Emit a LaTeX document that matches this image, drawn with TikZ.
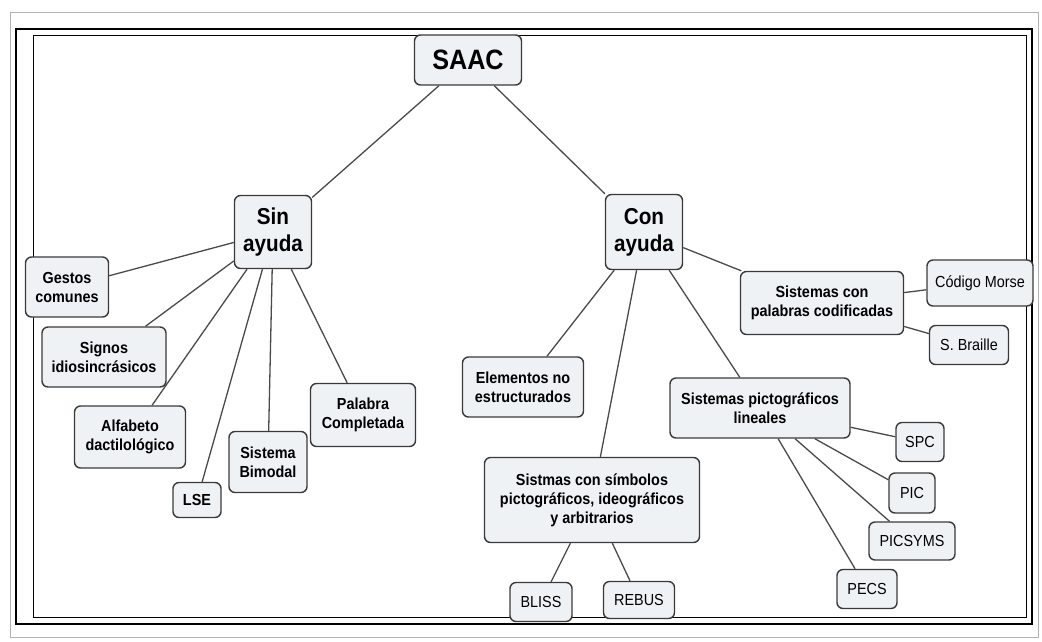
\documentclass[tikz,border=0pt]{standalone}
\usepackage{fontspec}
\setmainfont[FakeStretch=0.9]{Liberation Sans}
\usetikzlibrary{positioning}
\usepackage{xcolor}

\definecolor{relleno}{HTML}{EEF2F5}
\definecolor{borde}{HTML}{3A3A3A}
\definecolor{linea}{HTML}{4A4A4A}

\tikzset{
  caja/.style={draw=borde, fill=relleno, line width=1.4pt, rounded corners=6pt,
    align=center, inner sep=2pt, font=\fontsize{16}{19}\selectfont\bfseries},
  cajita/.style={caja, font=\fontsize{16}{19}\selectfont},
  grande/.style={caja, font=\fontsize{23}{27}\selectfont\bfseries},
  conector/.style={draw=linea, line width=1.3pt}
}

\begin{document}
\begin{tikzpicture}[x=1pt, y=-1pt]
    % Marco de la imagen
    \useasboundingbox (0,0) rectangle (1042,641);
    \draw[gray!60, line width=0.8pt] (10,12) rectangle (1038,637);
    \draw[black, line width=2pt] (16,29) rectangle (1032,624);
    \draw[black, line width=0.8pt] (33,35) rectangle (1026,617);

    % Nodo principal
    \node[caja, font=\fontsize{28}{32}\selectfont\bfseries, minimum width=107, minimum height=50] (saac) at (468,60) {SAAC};

    % Sin ayuda
    \node[grande, minimum width=77, minimum height=73] (sin) at (273,232) {Sin\\ayuda};
    \node[caja, minimum width=83, minimum height=60] (gestos) at (67,287) {Gestos\\comunes};
    \node[caja, minimum width=124, minimum height=60] (signos) at (104,357) {Signos\\idiosincrásicos};
    \node[caja, minimum width=111, minimum height=62] (alfabeto) at (130,437) {Alfabeto\\dactilológico};
    \node[caja, minimum width=48, minimum height=35] (lse) at (197,500) {LSE};
    \node[caja, minimum width=78, minimum height=61] (bimodal) at (268,462) {Sistema\\Bimodal};
    \node[caja, minimum width=105, minimum height=63] (palabra) at (363,415) {Palabra\\Completada};

    % Con ayuda
    \node[grande, minimum width=77, minimum height=75] (con) at (644,232) {Con\\ayuda};
    \node[caja, minimum width=163, minimum height=63] (codificadas) at (822,303) {Sistemas con\\palabras codificadas};
    \node[cajita, minimum width=106, minimum height=46] (morse) at (980,283) {Código Morse};
    \node[cajita, minimum width=79, minimum height=39] (braille) at (969,345) {S. Braille};
    \node[caja, minimum width=121, minimum height=60] (elementos) at (523,387) {Elementos no\\estructurados};
    \node[caja, minimum width=180, minimum height=60] (lineales) at (760,408) {Sistemas pictográficos\\lineales};
    \node[cajita, minimum width=48, minimum height=39] (spc) at (920,442) {SPC};
    \node[cajita, minimum width=46, minimum height=40] (pic) at (912,493) {PIC};
    \node[cajita, minimum width=86, minimum height=38] (picsyms) at (912,541) {PICSYMS};
    \node[cajita, minimum width=60, minimum height=39] (pecs) at (867,589) {PECS};
    \node[caja, minimum width=215, minimum height=85] (simbolos) at (592,500) {Sistmas con símbolos\\pictográficos, ideográficos\\y arbitrarios};
    \node[cajita, minimum width=62, minimum height=39] (bliss) at (541,602) {BLISS};
    \node[cajita, minimum width=71, minimum height=37] (rebus) at (639,600) {REBUS};

    % Conectores
    \foreach \a/\b in {saac/sin, saac/con,
        sin/gestos, sin/signos, sin/alfabeto, sin/lse, sin/bimodal, sin/palabra,
        con/elementos, con/simbolos, con/lineales, con/codificadas,
        codificadas/morse, codificadas/braille,
        lineales/spc, lineales/pic, lineales/picsyms, lineales/pecs,
        simbolos/bliss, simbolos/rebus} {
        \draw[conector] (\a) -- (\b);
    }
\end{tikzpicture}
\end{document}
